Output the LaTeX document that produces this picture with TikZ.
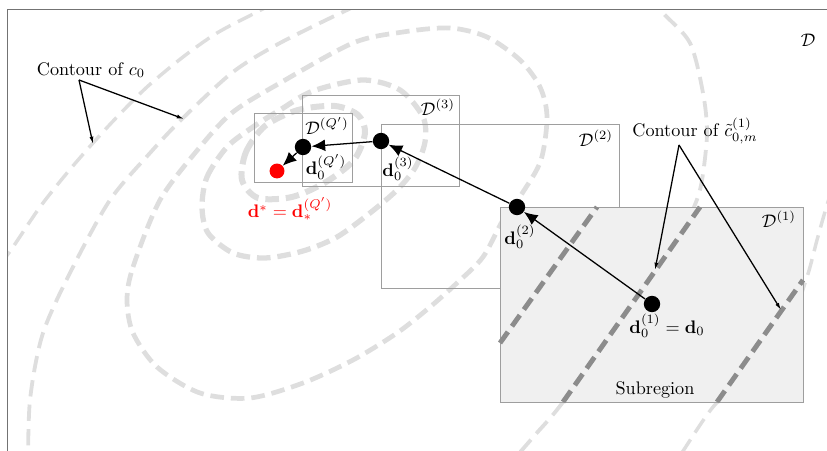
\documentclass[tikz,border=0pt]{standalone}
\usepackage{amsmath}
\usetikzlibrary{arrows.meta}
\begin{document}
\begin{tikzpicture}[x=0.55pt,y=-0.55pt,
  ring/.style={draw=black!13, line cap=butt, dash pattern=on 7.5pt off 3.8pt},
  outerring/.style={draw=black!13, line cap=butt, line width=1.9pt, dash pattern=on 9pt off 4.5pt},
  region/.style={draw=black!38, line width=0.45pt},
  framebox/.style={draw=black!55, line width=0.55pt},
  approx/.style={draw=black!45, line width=2.7pt, dash pattern=on 7.5pt off 3.8pt},
  dot/.style={circle, fill=black, inner sep=0pt, minimum size=9pt},
  reddot/.style={circle, fill=red, inner sep=0pt, minimum size=8.2pt},
  movearrow/.style={-{Latex[length=7.5pt,width=6.5pt]}, line width=0.7pt},
  callout/.style={-{Latex[length=4pt,width=2.2pt]}, line width=0.7pt},
  lbl/.style={inner sep=0pt}
]
\useasboundingbox (0,0) rectangle (827,451);
\clip (0,0) rectangle (827,451);

% contours of c0
\begin{scope}
\clip (7,10) rectangle (900,500);
\draw[ring, line width=3.3pt] plot[smooth cycle] coordinates {(242,180) (246,152) (265,126) (298,110) (335,106) (358,115) (365,133) (354,160) (326,182) (292,197) (258,198)};
\draw[ring, line width=2.9pt] plot[smooth cycle] coordinates {(202,207) (207,177) (227,147) (253,127) (280,110) (313,91) (363,80) (400,90) (423,117) (425,142) (415,168) (397,190) (370,213) (337,237) (303,251) (265,258) (233,253) (208,233)};
\draw[ring, line width=2.6pt] plot[smooth cycle] coordinates {(127,300) (133,267) (160,200) (200,147) (233,112) (280,83) (353,43) (403,32) (450,28) (487,37) (520,60) (540,87) (547,117) (541,160) (523,192) (503,220) (483,257) (457,283) (430,307) (397,333) (353,360) (303,383) (250,398) (200,393) (157,367) (133,333)};
\draw[outerring, line width=2.1pt] plot[smooth] coordinates {(28,470) (30,400) (43,333) (73,267) (110,200) (150,153) (183,118) (233,72) (280,43) (347,10) (380,-5)};
\draw[outerring, line width=2.1pt] plot[smooth] coordinates {(650,-5) (663,13) (690,43) (703,93) (707,133) (702,180) (694,207) (670,255) (620,320) (563,402) (535,435) (515,458)};
\draw[outerring] plot[smooth] coordinates {(0,265) (13,247) (40,207) (67,173) (93,143) (117,117) (147,87) (183,57) (217,33) (257,12) (290,-5)};
\draw[outerring] plot[smooth] coordinates {(840,165) (827,205) (817,240) (807,277) (790,320) (750,370) (713,407) (683,451) (670,470)};
\end{scope}

% outer frame
\draw[framebox] (7,460) -- (7,10) -- (840,10);

% subregions
\draw[region] (381,124) rectangle (619,288);
\draw[region] (302,95) rectangle (459,186);
\draw[region] (254,113) rectangle (352,182);
\draw[region, fill=black!6] (500,207) rectangle (803,402);

% contours of the local model
\draw[approx] (500,343) -- (597,207);
\draw[approx] (563,402) -- (700,207);
\draw[approx] (717,402) -- (803,280);

% labels
\node[lbl] (Dall) at (808,40) {$\mathcal{D}$};
\node[lbl] (D1) at (779,219) {$\mathcal{D}^{(1)}$};
\node[lbl] (D2) at (596,138) {$\mathcal{D}^{(2)}$};
\node[lbl] (D3) at (438,107) {$\mathcal{D}^{(3)}$};
\node[lbl] (DQ) at (327,126) {$\mathcal{D}^{(Q')}$};
\node[lbl] (sub) at (655,390) {Subregion};

\node[lbl] (lc0) at (91,70) {Contour of $c_0$};
\node[lbl] (lct) at (695,131) {Contour of $\tilde{c}_{0,m}^{(1)}$};

\coordinate (a0) at (79,80);
\coordinate (t01) at (93,144);
\coordinate (t02) at (184,119);
\draw[callout] (a0) -- (t01);
\draw[callout] (a0) -- (t02);

\coordinate (a1) at (679,145);
\coordinate (t11) at (655,270);
\coordinate (t12) at (781,310);
\draw[callout] (a1) -- (t11);
\draw[callout] (a1) -- (t12);

% iterates
\node[dot] (p1) at (652,304) {};
\node[dot] (p2) at (517,207) {};
\node[dot] (p3) at (381,141) {};
\node[dot] (pq) at (303,147) {};
\node[reddot] (ps) at (277,171) {};

\draw[movearrow] (p1) -- (p2);
\draw[movearrow] (p2) -- (p3);
\draw[movearrow] (p3) -- (pq);
\draw[movearrow] (pq) -- (ps);

\node[lbl] (lp1) at (667,326) {$\mathbf{d}_0^{(1)} = \mathbf{d}_0$};
\node[lbl] (lp2) at (520,237) {$\mathbf{d}_0^{(2)}$};
\node[lbl] (lp3) at (398,169) {$\mathbf{d}_0^{(3)}$};
\node[lbl] (lpq) at (326,167) {$\mathbf{d}_0^{(Q')}$};
\node[lbl, text=red] (lps) at (290,209) {$\mathbf{d}^{*} = \mathbf{d}_{*}^{(Q')}$};
\end{tikzpicture}
\end{document}
